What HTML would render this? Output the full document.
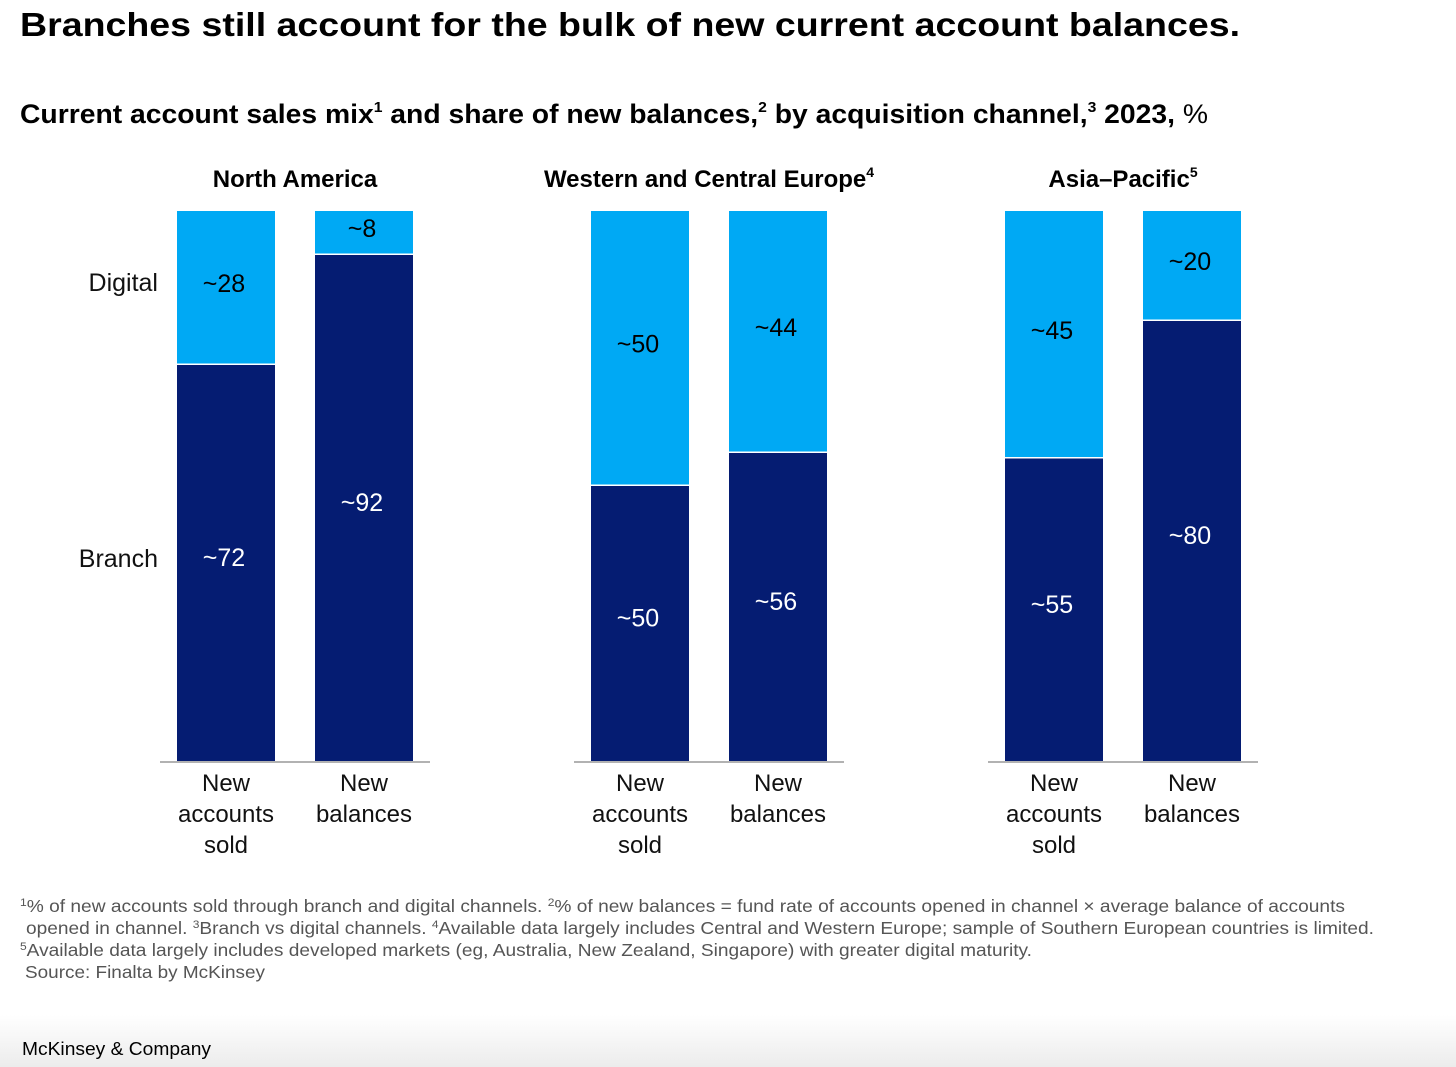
<!DOCTYPE html>
<html><head><meta charset="utf-8">
<style>
html,body{margin:0;padding:0;background:#fff;}
svg{display:block;font-family:"Liberation Sans",sans-serif;}
</style></head>
<body>
<svg id="chart" width="1456" height="1067" viewBox="0 0 1456 1067">
<defs><linearGradient id="fg" x1="0" y1="0" x2="0" y2="1"><stop offset="0" stop-color="#fff"/><stop offset="1" stop-color="#ececec"/></linearGradient></defs>
<rect x="0" y="1015" width="1456" height="52" fill="url(#fg)"/>
<text x="20" y="36" font-size="33" font-weight="bold" fill="#000" textLength="1220" lengthAdjust="spacingAndGlyphs">Branches still account for the bulk of new current account balances.</text>
<text x="20" y="123" font-size="27" font-weight="bold" fill="#000" textLength="1188" lengthAdjust="spacingAndGlyphs">Current account sales mix<tspan font-size="15" dy="-11">1</tspan><tspan dy="11"> and share of new balances,</tspan><tspan font-size="15" dy="-11">2</tspan><tspan dy="11"> by acquisition channel,</tspan><tspan font-size="15" dy="-11">3</tspan><tspan dy="11"> 2023, </tspan><tspan font-weight="normal">%</tspan></text>
<text x="158" y="291" font-size="25" text-anchor="end" fill="#111">Digital</text>
<text x="158" y="567" font-size="25" text-anchor="end" fill="#111">Branch</text>
<g id="plot"></g>
<g fill="#555" font-size="17.5">
<text x="20" y="912" textLength="1325" lengthAdjust="spacingAndGlyphs"><tspan font-size="11" dy="-6">1</tspan><tspan dy="6">% of new accounts sold through branch and digital channels. </tspan><tspan font-size="11" dy="-6">2</tspan><tspan dy="6">% of new balances = fund rate of accounts opened in channel × average balance of accounts</tspan></text>
<text x="26" y="934" textLength="1348" lengthAdjust="spacingAndGlyphs">opened in channel. <tspan font-size="11" dy="-6">3</tspan><tspan dy="6">Branch vs digital channels. </tspan><tspan font-size="11" dy="-6">4</tspan><tspan dy="6">Available data largely includes Central and Western Europe; sample of Southern European countries is limited.</tspan></text>
<text x="20" y="956" textLength="1012" lengthAdjust="spacingAndGlyphs"><tspan font-size="11" dy="-6">5</tspan><tspan dy="6">Available data largely includes developed markets (eg, Australia, New Zealand, Singapore) with greater digital maturity.</tspan></text>
<text x="25" y="978" textLength="240" lengthAdjust="spacingAndGlyphs">Source: Finalta by McKinsey</text>
</g>
<text x="22" y="1055" font-size="18" fill="#000" textLength="189" lengthAdjust="spacingAndGlyphs">McKinsey &amp; Company</text>
</svg>
<script>
const regions = ["North America", "Western and Central Europe", "Asia\u2013Pacific"];
const regionSup = ["", "4", "5"];
const categories = ["New accounts sold", "New balances"];
const digitalValues = [[28, 8], [50, 44], [45, 20]];
const branchValues = [[72, 92], [50, 56], [55, 80]];

const NS = "http://www.w3.org/2000/svg";
const plot = document.getElementById("plot");
const yTop = 211, yBottom = 761;
const y = v => yBottom - (v / 100) * (yBottom - yTop);
const groupX = [177, 591, 1005];
const barOffset = [0, 138];
const barW = 98;
function mk(tag, attrs, parent) {
  const e = document.createElementNS(NS, tag);
  for (const k in attrs) e.setAttribute(k, attrs[k]);
  (parent || plot).appendChild(e);
  return e;
}
regions.forEach((r, gi) => {
  const gx = groupX[gi];
  const g = mk("g", {});
  
  
  const cx = gx + (barOffset[1] + barW) / 2;
  const t = mk("text", {x: cx, y: 187, "font-size": 24, "font-weight": "bold", "text-anchor": "middle", fill: "#000"}, g);
  t.textContent = r;
  if (regionSup[gi]) { const s = mk("tspan", {"font-size": 14, dy: -10}, t); s.textContent = regionSup[gi]; }
  
  
  const ax = mk("line", {x1: gx - 17, x2: gx + barOffset[1] + barW + 17, y1: 762, y2: 762, stroke: "#999", "stroke-width": 1.5}, g);
  
  
  categories.forEach((c, ci) => {
    const bx = gx + barOffset[ci];
    const b = branchValues[gi][ci], d = digitalValues[gi][ci];
    const split = y(b);
    const rb = mk("rect", {x: bx, y: split, width: barW, height: yBottom - split, fill: "#051c72"}, g);
    
    
    const top = y(b + d);
    const rd = mk("rect", {x: bx, y: top, width: barW, height: split - top - 1.5, fill: "#00a9f4"}, g);
    
    
    const lb = mk("text", {x: bx + barW / 2 - 2, y: (split + yBottom) / 2 + 3, "font-size": 25, fill: "#fff", "text-anchor": "middle"}, g);
    lb.textContent = "~" + b;
    
    
    const ld = mk("text", {x: bx + barW / 2 - 2, y: (top + split) / 2 + 4, "font-size": 25, fill: "#000", "text-anchor": "middle"}, g);
    ld.textContent = "~" + d;
    
    
    const lines = ci === 0 ? ["New", "accounts", "sold"] : ["New", "balances"];
    const ct = mk("text", {"font-size": 24, fill: "#111", "text-anchor": "middle"}, g);
    
    
    lines.forEach((ln, li) => {
      const ts = mk("tspan", {x: bx + barW / 2, y: 791 + li * 31}, ct);
      ts.textContent = ln;
    });
  });
});
</script>
</body></html>
